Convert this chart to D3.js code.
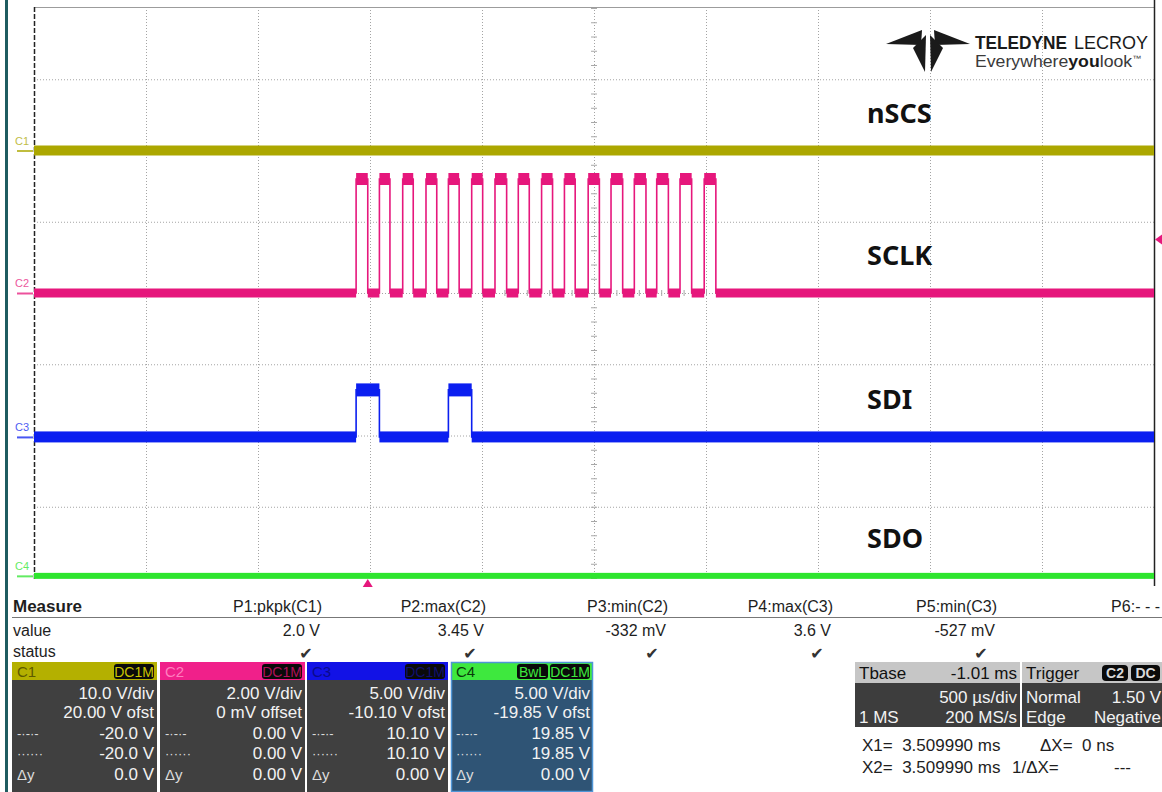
<!DOCTYPE html>
<html>
<head>
<meta charset="utf-8">
<script src="https://cdn.jsdelivr.net/npm/d3@7"></script>
<style>
body { margin: 0; background: #fff; }
text { font-family: "Liberation Sans", Arial, sans-serif; }
</style>
</head>
<body>
<div id="scope"></div>
<script>
// values
var channelIds = ["C1", "C2", "C3", "C4"];
var signalNames = ["nSCS", "SCLK", "SDI", "SDO"];
var voltsPerDiv = [10.0, 2.00, 5.00, 5.00];
var offsetVolts = [20.00, 0, -10.10, -19.85];
var highVolts = [0, 3.2, 3.3, 0];
var timeWindow = [-1490, 3510];        // µs, 500 µs/div, trigger at 0
var timePerDiv = 500;
var triggerLevel = 1.50;               // V on C2

// SCLK / SDI edges (µs from trigger)
var sclkRise = [-52, 52, 156, 260, 360, 464, 568, 672, 776, 878, 984, 1086, 1190, 1290, 1394, 1502];
var sclkFall = [0, 99, 203, 308, 408, 513, 620, 721, 825, 926, 1034, 1138, 1242, 1342, 1446, 1554];
var sdiRise = [-52, 360];
var sdiFall = [52, 464];

// measure table
var measureHeads = ["P1:pkpk(C1)", "P2:max(C2)", "P3:min(C2)", "P4:max(C3)", "P5:min(C3)", "P6:- - -"];
var measureValues = ["2.0 V", "3.45 V", "-332 mV", "3.6 V", "-527 mV", ""];
var measureOk = [true, true, true, true, true, false];

// channel descriptor boxes
var chanVdiv = ["10.0 V/div", "2.00 V/div", "5.00 V/div", "5.00 V/div"];
var chanOfst = ["20.00 V ofst", "0 mV offset", "-10.10 V ofst", "-19.85 V ofst"];
var chanCursor1 = ["-20.0 V", "0.00 V", "10.10 V", "19.85 V"];
var chanCursor2 = ["-20.0 V", "0.00 V", "10.10 V", "19.85 V"];
var chanDeltaY = ["0.0 V", "0.00 V", "0.00 V", "0.00 V"];
var chanBadges = [["DC1M"], ["DC1M"], ["DC1M"], ["BwL", "DC1M"]];

var tbaseText = ["-1.01 ms", "500 µs/div", "1 MS", "200 MS/s"];
var triggerText = ["C2", "DC", "Normal", "1.50 V", "Edge", "Negative"];
var cursorText = ["X1=  3.509990 ms", "ΔX=  0 ns", "X2=  3.509990 ms", "1/ΔX=", "---"];

// layout
var svgWidth = 1162, svgHeight = 792;
var plot = { left: 34, right: 1154, top: 8, bottom: 578 };
var traceColor = ["#aca700", "#e6177c", "#0b1ff0", "#2ee52e"];
var headColor = ["#b4b000", "#f0208a", "#1212e6", "#3ee83e"];
var bandLow = [10, 9, 11, 6];
var bandHigh = [10, 12, 13, 6];

var svg = d3.select("#scope").append("svg")
    .attr("width", svgWidth)
    .attr("height", svgHeight);

svg.append("rect").attr("width", svgWidth).attr("height", svgHeight).attr("fill", "#fff");
// teal strip on the far left
svg.append("rect").attr("x", 5).attr("y", 0).attr("width", 3).attr("height", svgHeight).attr("fill", "#1f5c60");

// scales
var x = d3.scaleLinear().domain(timeWindow).range([plot.left, plot.right]);
var divY = d3.scaleLinear().domain([-4, 4]).range([plot.bottom, plot.top]);
function yOf(ch, v) { return divY((v + offsetVolts[ch]) / voltsPerDiv[ch]); }

// grid from axes
var gridGroup = svg.append("g");
gridGroup.append("g")
    .attr("transform", `translate(0, ${plot.bottom})`)
    .call(d3.axisBottom(x)
        .tickValues(d3.range(timeWindow[0] + timePerDiv, timeWindow[1], timePerDiv))
        .tickSize(-(plot.bottom - plot.top))
        .tickFormat(""));
gridGroup.append("g")
    .attr("transform", `translate(${plot.left}, 0)`)
    .call(d3.axisLeft(divY)
        .tickValues(d3.range(-3, 4))
        .tickSize(-(plot.right - plot.left))
        .tickFormat(""));
gridGroup.selectAll(".domain").remove();
gridGroup.selectAll(".tick line")
    .attr("stroke", "#a4a4a4")
    .attr("stroke-dasharray", "1,2")
    .attr("stroke-width", 1);

// centre crosshair minor ticks
var cx0 = x(timeWindow[0] + 5 * timePerDiv);
var tickGroup = svg.append("g");
tickGroup.append("g")
    .attr("transform", `translate(0, ${divY(0) - 3})`)
    .call(d3.axisBottom(x).tickValues(d3.range(timeWindow[0], timeWindow[1] + 1, timePerDiv / 5)).tickSize(6).tickFormat(""));
tickGroup.append("g")
    .attr("transform", `translate(${cx0 + 3}, 0)`)
    .call(d3.axisLeft(divY).tickValues(d3.range(-4, 4.01, 0.2)).tickSize(6).tickFormat(""));
tickGroup.selectAll(".domain").remove();
tickGroup.selectAll(".tick line").attr("stroke", "#a8a8a8");

// frame
svg.append("line").attr("x1", plot.left).attr("x2", plot.right).attr("y1", 7.5).attr("y2", 7.5).attr("stroke", "#9c9c9c");
svg.append("line").attr("x1", plot.left + 0.5).attr("x2", plot.left + 0.5).attr("y1", 7).attr("y2", plot.bottom + 2)
    .attr("stroke", "#222").attr("stroke-width", 1.5).attr("stroke-dasharray", "5,2");
svg.append("line").attr("x1", plot.right + 0.5).attr("x2", plot.right + 0.5).attr("y1", 0).attr("y2", 586)
    .attr("stroke", "#222").attr("stroke-width", 1.5);

// build level segments for each channel
function buildSegments(rises, falls, high) {
    var segs = [];
    var t = timeWindow[0];
    rises.forEach(function(r, i) {
        segs.push({ t0: t, t1: r, v: 0 });
        segs.push({ t0: r, t1: falls[i], v: high });
        t = falls[i];
    });
    segs.push({ t0: t, t1: timeWindow[1], v: 0 });
    return segs;
}
var traces = [
    buildSegments([], [], highVolts[0]),
    buildSegments(sclkRise, sclkFall, highVolts[1]),
    buildSegments(sdiRise, sdiFall, highVolts[2]),
    buildSegments([], [], highVolts[3])
];

var traceGroup = svg.append("g");
traces.forEach(function(segs, ch) {
    var g = traceGroup.append("g");
    // persistence band for each level
    g.selectAll("rect")
        .data(segs)
        .enter()
        .append("rect")
        .attr("x", d => x(d.t0))
        .attr("width", d => x(d.t1) - x(d.t0))
        .attr("y", d => yOf(ch, d.v) - (d.v > 0 ? bandHigh[ch] : bandLow[ch]) / 2)
        .attr("height", d => (d.v > 0 ? bandHigh[ch] : bandLow[ch]))
        .attr("fill", traceColor[ch]);
    // edges
    var pts = [];
    segs.forEach(function(d) { pts.push([d.t0, d.v]); pts.push([d.t1, d.v]); });
    g.append("path")
        .attr("d", d3.line().x(d => x(d[0])).y(d => yOf(ch, d[1]))(pts))
        .attr("fill", "none")
        .attr("stroke", traceColor[ch])
        .attr("stroke-width", 1.6);
});

// channel tags on the left
channelIds.forEach(function(id, ch) {
    var y0 = yOf(ch, 0);
    svg.append("text").attr("x", 15).attr("y", y0 - 6).attr("font-size", 11)
        .attr("fill", traceColor[ch]).attr("opacity", 0.75).text(id);
    svg.append("line").attr("x1", 17).attr("x2", 33).attr("y1", y0 + 0.5).attr("y2", y0 + 0.5)
        .attr("stroke", traceColor[ch]).attr("stroke-width", 2).attr("opacity", 0.75);
});

// signal names
signalNames.forEach(function(name, ch) {
    svg.append("text")
        .attr("x", 867)
        .attr("y", yOf(ch, 0) - 28)
        .attr("font-weight", "bold")
        .attr("font-size", 27)
        .attr("fill", "#111")
        .style("font-family", "'Noto Sans', sans-serif")
        .text(name);
});

// trigger markers
var tl = yOf(1, triggerLevel);
svg.append("path").attr("d", `M1162,${tl - 5} L1155,${tl} L1162,${tl + 5} Z`).attr("fill", traceColor[1]);
var tx = x(0);
svg.append("path").attr("d", `M${tx - 5},587 L${tx},579 L${tx + 5},587 Z`).attr("fill", traceColor[1]);

// logo
var logo = svg.append("g");
logo.append("path").attr("d", "M886,44 L922,30 L921,45 Z").attr("fill", "#1a1a1a");
logo.append("path").attr("d", "M970,44 L934,30 L935,45 Z").attr("fill", "#1a1a1a");
logo.append("path").attr("d", "M913,48 L926,35 L925,72 Z").attr("fill", "#1a1a1a");
logo.append("path").attr("d", "M943,48 L930,35 L931,72 Z").attr("fill", "#1a1a1a");
logo.append("text").attr("x", 975).attr("y", 49).attr("font-size", 18).attr("font-weight", "bold").attr("fill", "#1a1a1a")
    .attr("textLength", 92).attr("lengthAdjust", "spacingAndGlyphs").text("TELEDYNE");
logo.append("text").attr("x", 1074).attr("y", 49).attr("font-size", 18).attr("fill", "#1a1a1a")
    .attr("textLength", 74).attr("lengthAdjust", "spacingAndGlyphs").text("LECROY");
var t2 = logo.append("text").attr("x", 975).attr("y", 67).attr("font-size", 16).attr("fill", "#3a3a3a")
    .attr("textLength", 166).attr("lengthAdjust", "spacingAndGlyphs");
t2.append("tspan").text("Everywhere");
t2.append("tspan").attr("font-weight", "bold").attr("fill", "#1a1a1a").text("you");
t2.append("tspan").text("look");
t2.append("tspan").attr("font-size", 8).attr("dy", -6).text("™");

// ---- measure table ----
var table = svg.append("g").attr("fill", "#1e1e1e");
table.append("text").attr("x", 13).attr("y", 612).attr("font-size", 17).attr("font-weight", "bold").text("Measure");
table.append("line").attr("x1", 12).attr("x2", svgWidth).attr("y1", 617.5).attr("y2", 617.5).attr("stroke", "#777");
table.append("text").attr("x", 13).attr("y", 636).attr("font-size", 16).text("value");
table.append("text").attr("x", 13).attr("y", 657).attr("font-size", 16).text("status");
var colRight = [322, 486, 668, 833, 997, 1160];
measureHeads.forEach(function(h, i) {
    table.append("text").attr("x", colRight[i]).attr("y", 612).attr("font-size", 16)
        .attr("text-anchor", "end").text(h);
    table.append("text").attr("x", colRight[i] - 2).attr("y", 636).attr("font-size", 16)
        .attr("text-anchor", "end").text(measureValues[i]);
    if (measureOk[i]) {
        table.append("text").attr("x", colRight[i] - 16).attr("y", 659).attr("font-size", 16)
            .attr("text-anchor", "middle").attr("fill", "#333")
            .style("font-family", "'DejaVu Sans', sans-serif").text("✔");
    }
});

// ---- channel boxes ----
var boxX = [12, 160, 307, 451];
var boxW = [145, 145, 141, 142];
var headTextColor = ["#5e5a00", "#ff7fbf", "#0a0a8c", "#0a3a0a"];
var badgeTextColor = ["#c9c400", "#b0105a", "#101070", "#3ee83e"];
channelIds.forEach(function(id, ch) {
    var g = svg.append("g").attr("transform", `translate(${boxX[ch]}, 662)`);
    var w = boxW[ch];
    g.append("rect").attr("width", w).attr("height", 18).attr("fill", headColor[ch]);
    g.append("rect").attr("y", 18).attr("width", w).attr("height", 112)
        .attr("fill", ch === 3 ? "#2f5475" : "#404040");
    if (ch === 3) {
        g.append("rect").attr("x", 0.5).attr("y", 0.5).attr("width", w - 1).attr("height", 129)
            .attr("fill", "none").attr("stroke", "#4f95d6").attr("stroke-width", 1.5);
    }
    g.append("text").attr("x", 5).attr("y", 15).attr("font-size", 15).attr("fill", headTextColor[ch]).text(id);
    var bx = w - 3;
    chanBadges[ch].slice().reverse().forEach(function(b) {
        var bw = b.length * 9 + 4;
        bx -= bw;
        g.append("rect").attr("x", bx).attr("y", 2).attr("width", bw).attr("height", 15).attr("rx", 3).attr("fill", "#0a0a0a");
        g.append("text").attr("x", bx + bw / 2).attr("y", 15).attr("font-size", 14).attr("text-anchor", "middle")
            .attr("fill", badgeTextColor[ch]).text(b);
        bx -= 2;
    });
    var rows = [chanVdiv[ch], chanOfst[ch], chanCursor1[ch], chanCursor2[ch], chanDeltaY[ch]];
    var rowY = [37, 56, 77, 97, 118];
    rows.forEach(function(r, i) {
        g.append("text").attr("x", w - 3).attr("y", rowY[i]).attr("font-size", 17)
            .attr("text-anchor", "end").attr("fill", "#f2f2f2").text(r);
    });
    g.append("text").attr("x", 5).attr("y", rowY[2] - 1).attr("font-size", 13).attr("fill", "#dcdcdc").text("-·-·-");
    g.append("text").attr("x", 5).attr("y", rowY[3] - 1).attr("font-size", 13).attr("fill", "#dcdcdc").text("······");
    g.append("text").attr("x", 5).attr("y", rowY[4]).attr("font-size", 15).attr("fill", "#dcdcdc").text("Δy");
});

// ---- timebase & trigger ----
var tb = svg.append("g").attr("transform", "translate(855, 662)");
tb.append("rect").attr("width", 165).attr("height", 21).attr("fill", "#c6c6c6");
tb.append("rect").attr("y", 21).attr("width", 165).attr("height", 44).attr("fill", "#3d3d3d");
tb.append("text").attr("x", 4).attr("y", 17).attr("font-size", 17).attr("fill", "#111").text("Tbase");
tb.append("text").attr("x", 162).attr("y", 17).attr("font-size", 17).attr("fill", "#111").attr("text-anchor", "end").text(tbaseText[0]);
tb.append("text").attr("x", 162).attr("y", 41).attr("font-size", 17).attr("fill", "#f2f2f2").attr("text-anchor", "end").text(tbaseText[1]);
tb.append("text").attr("x", 4).attr("y", 61).attr("font-size", 17).attr("fill", "#f2f2f2").text(tbaseText[2]);
tb.append("text").attr("x", 162).attr("y", 61).attr("font-size", 17).attr("fill", "#f2f2f2").attr("text-anchor", "end").text(tbaseText[3]);

var tr = svg.append("g").attr("transform", "translate(1022, 662)");
tr.append("rect").attr("width", 140).attr("height", 21).attr("fill", "#c6c6c6");
tr.append("rect").attr("y", 21).attr("width", 140).attr("height", 44).attr("fill", "#3d3d3d");
tr.append("text").attr("x", 4).attr("y", 17).attr("font-size", 17).attr("fill", "#111").text("Trigger");
[[80, 26, triggerText[0]], [109, 29, triggerText[1]]].forEach(function(b) {
    tr.append("rect").attr("x", b[0]).attr("y", 3).attr("width", b[1]).attr("height", 16).attr("rx", 4).attr("fill", "#0a0a0a");
    tr.append("text").attr("x", b[0] + b[1] / 2).attr("y", 16).attr("font-size", 14).attr("font-weight", "bold")
        .attr("text-anchor", "middle").attr("fill", "#d8d8d8").text(b[2]);
});
tr.append("text").attr("x", 4).attr("y", 41).attr("font-size", 17).attr("fill", "#f2f2f2").text(triggerText[2]);
tr.append("text").attr("x", 139).attr("y", 41).attr("font-size", 17).attr("fill", "#f2f2f2").attr("text-anchor", "end").text(triggerText[3]);
tr.append("text").attr("x", 4).attr("y", 61).attr("font-size", 17).attr("fill", "#f2f2f2").text(triggerText[4]);
tr.append("text").attr("x", 139).attr("y", 61).attr("font-size", 17).attr("fill", "#f2f2f2").attr("text-anchor", "end").text(triggerText[5]);

// cursor readouts
var cur = svg.append("g").attr("fill", "#1e1e1e").attr("font-size", 17);
cur.append("text").attr("x", 862).attr("y", 751).attr("xml:space", "preserve").text(cursorText[0]);
cur.append("text").attr("x", 1040).attr("y", 751).attr("xml:space", "preserve").text(cursorText[1]);
cur.append("text").attr("x", 862).attr("y", 773).attr("xml:space", "preserve").text(cursorText[2]);
cur.append("text").attr("x", 1012).attr("y", 773).text(cursorText[3]);
cur.append("text").attr("x", 1114).attr("y", 773).text(cursorText[4]);
</script>
</body>
</html>
